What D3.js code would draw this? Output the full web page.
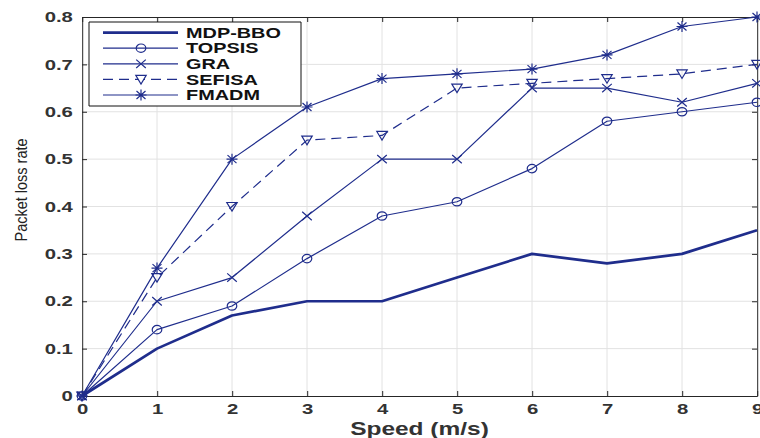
<!DOCTYPE html>
<html>
<head>
<meta charset="utf-8">
<script src="https://cdn.jsdelivr.net/npm/d3@7"></script>
<style>
  body { margin: 0; background: #fff; }
  svg { display: block; }
  .axis path, .axis line { stroke: #262626; vector-effect: non-scaling-stroke; }
  .axis text { font-family: "Liberation Sans", Arial, sans-serif; font-weight: bold; font-size: 14.5px; fill: #333; }
  .grid line { stroke: #e2e2e2; vector-effect: non-scaling-stroke; }
  .nss { vector-effect: non-scaling-stroke; }
</style>
</head>
<body>
<svg></svg>
<script>
// data
const speed = [0, 1, 2, 3, 4, 5, 6, 7, 8, 9];
const mdpBbo = [0, 0.10, 0.17, 0.20, 0.20, 0.25, 0.30, 0.28, 0.30, 0.35];
const topsis = [0, 0.14, 0.19, 0.29, 0.38, 0.41, 0.48, 0.58, 0.60, 0.62];
const gra    = [0, 0.20, 0.25, 0.38, 0.50, 0.50, 0.65, 0.65, 0.62, 0.66];
const sefisa = [0, 0.25, 0.40, 0.54, 0.55, 0.65, 0.66, 0.67, 0.68, 0.70];
const fmadm  = [0, 0.27, 0.50, 0.61, 0.67, 0.68, 0.69, 0.72, 0.78, 0.80];
const seriesNames = ['MDP-BBO', 'TOPSIS', 'GRA', 'SEFISA', 'FMADM'];
const xTicks = [0, 1, 2, 3, 4, 5, 6, 7, 8, 9];
const yTicks = [0, 0.1, 0.2, 0.3, 0.4, 0.5, 0.6, 0.7, 0.8];
const yTickLabels = ['0', '0.1', '0.2', '0.3', '0.4', '0.5', '0.6', '0.7', '0.8'];

// the picture is stretched sideways, so draw in a narrower box and let the svg stretch it
const k = 1.4;
const width = 760, height = 438;
const iw = width / k;

const svg = d3.select('svg')
  .attr('width', width).attr('height', height)
  .attr('viewBox', `0 0 ${iw} ${height}`)
  .attr('preserveAspectRatio', 'none');

const x = d3.scaleLinear().domain([0, 9]).range([82 / k, 757 / k]);
const y = d3.scaleLinear().domain([0, 0.8]).range([396, 17]);

const blue = '#1f2d8c';

// grid
const grid = svg.append('g').attr('class', 'grid');
grid.selectAll('.gx').data(xTicks.slice(1, -1)).enter().append('line')
  .attr('x1', d => x(d)).attr('x2', d => x(d))
  .attr('y1', y(0)).attr('y2', y(0.8));
grid.selectAll('.gy').data(yTicks.slice(1, -1)).enter().append('line')
  .attr('x1', x(0)).attr('x2', x(9))
  .attr('y1', d => y(d)).attr('y2', d => y(d));

// axes, matlab style box with inward ticks
svg.append('g').attr('class', 'axis')
  .attr('transform', `translate(0,${y(0)})`)
  .call(d3.axisBottom(x).tickValues(xTicks).tickSizeInner(-5).tickSizeOuter(0).tickPadding(7.5));
svg.append('g').attr('class', 'axis')
  .attr('transform', `translate(${x(0)},0)`)
  .call(d3.axisLeft(y).tickValues(yTicks).tickFormat((d, i) => yTickLabels[i])
    .tickSizeInner(-5 / k).tickSizeOuter(0).tickPadding(6.5));
svg.append('g').attr('class', 'axis')
  .attr('transform', `translate(0,${y(0.8)})`)
  .call(d3.axisTop(x).tickValues(xTicks).tickSizeInner(-5).tickSizeOuter(0).tickFormat(''));
svg.append('g').attr('class', 'axis')
  .attr('transform', `translate(${x(9)},0)`)
  .call(d3.axisRight(y).tickValues(yTicks).tickSizeInner(-5 / k).tickSizeOuter(0).tickFormat(''));

// marker shapes in screen px, squeezed back by k
function sx(v) { return v / k; }
const markers = {
  none: null,
  circle: (g) => g.append('ellipse').attr('rx', sx(4.8)).attr('ry', 4.2),
  cross: (g) => g.append('path').attr('d', `M${sx(-4.8)},-4.2L${sx(4.8)},4.2M${sx(-4.8)},4.2L${sx(4.8)},-4.2`),
  triangle: (g) => g.append('path').attr('d', `M${sx(-5.2)},-4L${sx(5.2)},-4L0,4.6Z`),
  star: (g) => g.append('path').attr('d',
    `M${sx(-4.5)},-4L${sx(4.5)},4M${sx(-4.5)},4L${sx(4.5)},-4M0,-5.5L0,5.5M${sx(-5.5)},0L${sx(5.5)},0`)
};

const series = [
  { name: seriesNames[0], values: mdpBbo, width: 2.7, dash: null, marker: 'none' },
  { name: seriesNames[1], values: topsis, width: 1.2, dash: null, marker: 'circle' },
  { name: seriesNames[2], values: gra, width: 1.2, dash: null, marker: 'cross' },
  { name: seriesNames[3], values: sefisa, width: 1.2, dash: '10,6', marker: 'triangle' },
  { name: seriesNames[4], values: fmadm, width: 1.2, dash: null, marker: 'star' }
];

const line = d3.line().x((d, i) => x(speed[i])).y(d => y(d));

series.forEach(s => {
  svg.append('path')
    .attr('class', 'nss')
    .attr('d', line(s.values))
    .attr('fill', 'none')
    .attr('stroke', blue)
    .attr('stroke-width', s.width)
    .attr('stroke-dasharray', s.dash)
    .attr('stroke-linejoin', 'round');
  if (markers[s.marker]) {
    s.values.forEach((v, i) => {
      const g = svg.append('g').attr('transform', `translate(${x(speed[i])},${y(v)})`);
      markers[s.marker](g)
        .attr('class', 'nss')
        .attr('fill', 'none')
        .attr('stroke', blue)
        .attr('stroke-width', 1.2);
    });
  }
});

// legend
const legend = svg.append('g');
legend.append('rect')
  .attr('class', 'nss')
  .attr('x', 89 / k).attr('y', 22)
  .attr('width', (301 - 89) / k).attr('height', 84)
  .attr('fill', '#fff').attr('stroke', '#111').attr('stroke-width', 1);

series.forEach((s, i) => {
  const ly = 32.6 + i * 15.6;
  legend.append('line')
    .attr('class', 'nss')
    .attr('x1', 103 / k).attr('x2', 178 / k)
    .attr('y1', ly).attr('y2', ly)
    .attr('stroke', blue)
    .attr('stroke-width', s.width)
    .attr('stroke-dasharray', s.dash);
  if (markers[s.marker]) {
    const g = legend.append('g').attr('transform', `translate(${141 / k},${ly})`);
    markers[s.marker](g)
      .attr('class', 'nss')
      .attr('fill', s.marker === 'triangle' ? '#fff' : 'none')
      .attr('stroke', blue)
      .attr('stroke-width', 1.2);
  }
  legend.append('text')
    .attr('x', 186 / k).attr('y', ly)
    .attr('dy', '0.36em')
    .style('font-family', '"Liberation Sans", Arial, sans-serif')
    .style('font-weight', 'bold')
    .style('font-size', '14.2px')
    .attr('fill', '#111')
    .text(s.name);
});

// axis titles
svg.append('text')
  .attr('x', (x(0) + x(9)) / 2).attr('y', 435)
  .attr('text-anchor', 'middle')
  .style('font-family', '"Liberation Sans", Arial, sans-serif')
  .style('font-weight', 'bold')
  .style('font-size', '17.5px')
  .attr('fill', '#333')
  .text('Speed (m/s)');

svg.append('text')
  .attr('transform', `translate(${27 / k},190) rotate(-90) scale(1,0.85)`)
  .attr('text-anchor', 'middle')
  .style('font-family', '"Liberation Sans", Arial, sans-serif')
  .style('font-size', '14.5px')
  .attr('fill', '#222')
  .text('Packet loss rate');
</script>
</body>
</html>
